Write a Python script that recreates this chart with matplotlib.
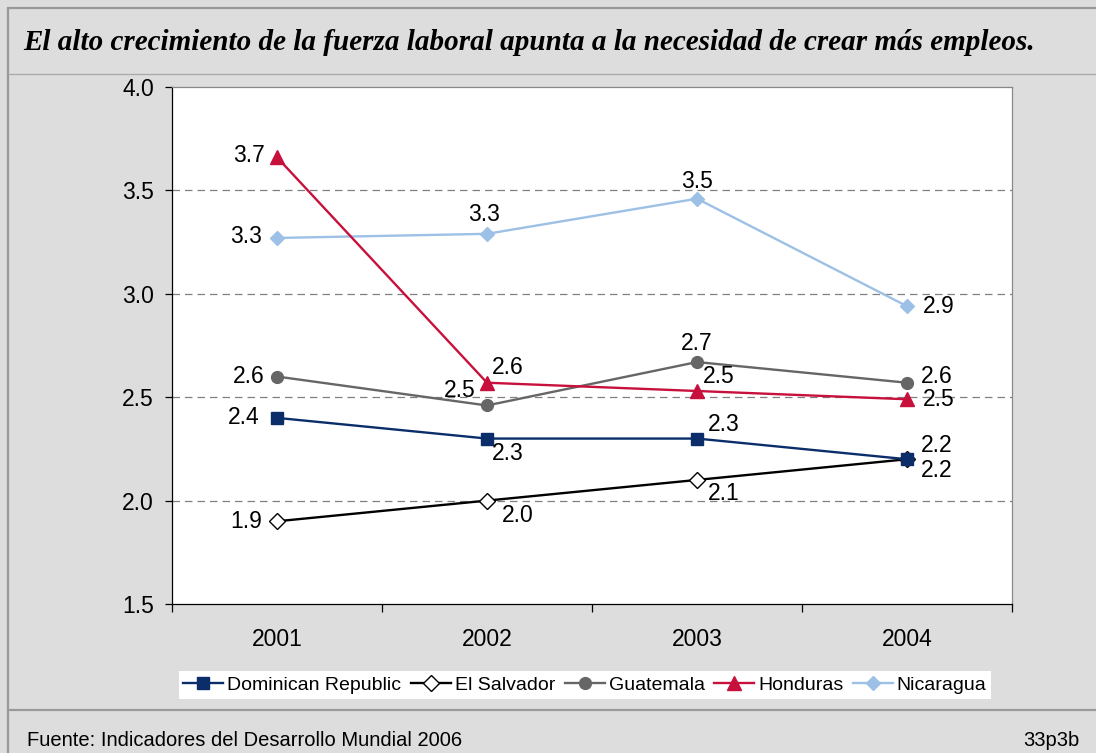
import matplotlib
matplotlib.use("Agg")
import matplotlib.pyplot as plt
from matplotlib.lines import Line2D

# ---- data ----
years = ["2001", "2002", "2003", "2004"]
series_names = ["Dominican Republic", "El Salvador", "Guatemala", "Honduras", "Nicaragua"]
dominican = [2.40, 2.30, 2.30, 2.20]
el_salvador = [1.90, 2.00, 2.10, 2.20]
guatemala = [2.60, 2.46, 2.67, 2.57]
honduras = [3.66, 2.57, 2.53, 2.49]
nicaragua = [3.27, 3.29, 3.46, 2.94]
y_ticks = [1.5, 2.0, 2.5, 3.0, 3.5, 4.0]

title = "El alto crecimiento de la fuerza laboral apunta a la necesidad de crear más empleos."
source = "Fuente: Indicadores del Desarrollo Mundial 2006"
code = "33p3b"

# ---- styles ----
styles = {
    "Dominican Republic": dict(color="#0B2E6B", marker="s", ms=8, mfc="#0B2E6B", mec="#0B2E6B"),
    "El Salvador": dict(color="#000000", marker="D", ms=8.5, mfc="white", mec="#000000"),
    "Guatemala": dict(color="#666666", marker="o", ms=8.5, mfc="#666666", mec="#666666"),
    "Honduras": dict(color="#C8103C", marker="^", ms=10.5, mfc="#C8103C", mec="#C8103C"),
    "Nicaragua": dict(color="#9DC0E6", marker="D", ms=7.5, mfc="#9DC0E6", mec="#9DC0E6"),
}
# label offsets in pixels (dx, dy) per point
label_offsets = {
    "Dominican Republic": [(-33, 0), (21, -15), (27, 14), (30, 14)],
    "El Salvador": [(-31, 0), (31, -15), (27, -14), (30, -11)],
    "Guatemala": [(-28, 0), (-27, 15), (0, 19), (30, 6)],
    "Honduras": [(-28, 2), (21, 15), (22, 14), (32, 0)],
    "Nicaragua": [(-31, 1), (-3, 19), (0, 17), (32, 0)],
}

W, H = 1096, 753
BG = "#DDDDDD"
plt.rcParams["font.family"] = ["Liberation Sans", "DejaVu Sans"]
FS = 16.5

fig = plt.figure(figsize=(W / 100, H / 100), dpi=100, facecolor=BG)


def fx(x):
    return x / W


def fy(y):
    return 1 - y / H


def hline(y, x0, x1, color, lw):
    fig.add_artist(Line2D([fx(x0), fx(x1)], [fy(y), fy(y)], transform=fig.transFigure,
                          color=color, lw=lw, solid_capstyle="butt"))


def vline(x, y0, y1, color, lw):
    fig.add_artist(Line2D([fx(x), fx(x)], [fy(y0), fy(y1)], transform=fig.transFigure,
                          color=color, lw=lw, solid_capstyle="butt"))


# frame lines
hline(7.5, 7, W, "#999999", 1.6)
vline(8, 7, H, "#999999", 1.6)
hline(74, 8, W, "#A8A8A8", 0.9)
hline(710, 8, W, "#999999", 1.6)

fig.text(fx(23), fy(42), title, fontsize=21, family=["Liberation Serif", "DejaVu Serif"],
         weight="bold", style="italic", va="center", ha="left")
fig.text(fx(27), fy(741), source, fontsize=14.5, va="center", ha="left")
fig.text(fx(1079), fy(741), code, fontsize=14.5, va="center", ha="right")

ax = fig.add_axes([fx(172), fy(604), (1012 - 172) / W, (604 - 87) / H])
ax.set_facecolor("white")
ax.set_xlim(-0.5, len(years) - 0.5)
ax.set_ylim(y_ticks[0], y_ticks[-1])

xs = list(range(len(years)))
data = {
    "Dominican Republic": dominican,
    "El Salvador": el_salvador,
    "Guatemala": guatemala,
    "Honduras": honduras,
    "Nicaragua": nicaragua,
}
draw_order = ["Guatemala", "Nicaragua", "Honduras", "El Salvador", "Dominican Republic"]
handles = {}
for name in draw_order:
    st = styles[name]
    ln, = ax.plot(xs, data[name], color=st["color"], lw=1.7, marker=st["marker"],
                  ms=st["ms"], mfc=st["mfc"], mec=st["mec"], mew=1.0, label=name, zorder=3,
                  clip_on=False)
    handles[name] = ln
    for i, v in enumerate(data[name]):
        dx, dy = label_offsets[name][i]
        ax.annotate(f"{v:.1f}", (xs[i], v), xytext=(dx, dy), textcoords="offset pixels",
                    ha="center", va="center", fontsize=FS, color="black", zorder=5)

# grid
for yv in y_ticks[1:-1]:
    ax.axhline(yv, color="#808080", lw=0.9, ls=(0, (6, 4)), zorder=1)

for s in ["top", "right"]:
    ax.spines[s].set_color("#888888")
    ax.spines[s].set_linewidth(0.9)
for s in ["left", "bottom"]:
    ax.spines[s].set_color("black")
    ax.spines[s].set_linewidth(0.9)

ax.set_yticks(y_ticks)
ax.set_yticklabels([f"{t:.1f}" for t in y_ticks], fontsize=FS)
ax.tick_params(axis="y", direction="out", length=5, width=0.9, pad=8)

ax.set_xticks([i - 0.5 for i in range(len(years) + 1)])
ax.set_xticklabels([])
ax.tick_params(axis="x", which="major", direction="out", length=6, width=0.9)
ax.set_xticks(xs, minor=True)
ax.set_xticklabels(years, minor=True, fontsize=FS)
ax.tick_params(axis="x", which="minor", length=0, pad=17)

leg = fig.legend([handles[n] for n in series_names], series_names, loc="center",
                 bbox_to_anchor=(fx(585), fy(685)), ncol=5, fontsize=14, frameon=True,
                 fancybox=False, edgecolor="white", facecolor="white", framealpha=1,
                 handlelength=2.05, handletextpad=0.2, columnspacing=0.5, borderpad=0.25,
                 borderaxespad=0)
leg.get_frame().set_linewidth(0)

fig.savefig("out.png", dpi=100, facecolor=BG)
